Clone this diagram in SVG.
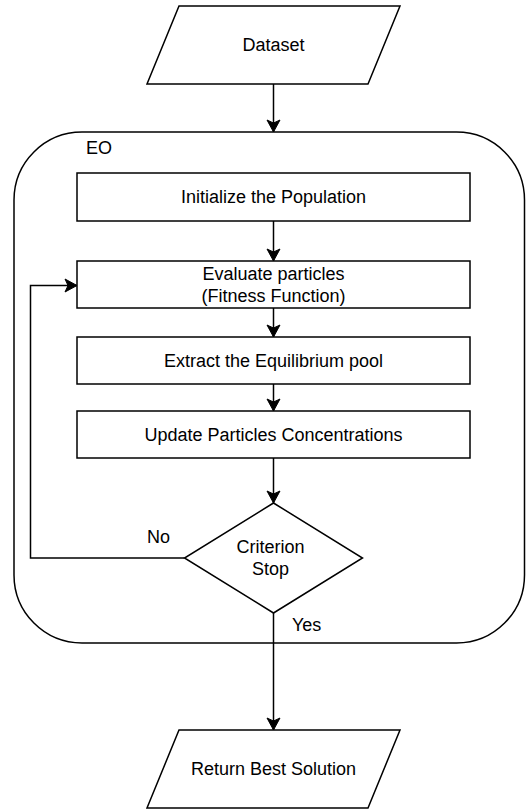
<svg xmlns="http://www.w3.org/2000/svg" width="526" height="809" viewBox="0 0 526 809">
  <style>
    .shape { fill: #ffffff; stroke: #000000; stroke-width: 1.5; }
    .edge { fill: none; stroke: #000000; stroke-width: 1.5; }
    .label { font-family: "Liberation Sans", Arial, sans-serif; font-size: 18px; fill: #000000; }
    .mid { text-anchor: middle; }
  </style>
  <defs>
    <marker id="arrow" markerUnits="userSpaceOnUse" markerWidth="16" markerHeight="16" viewBox="-14 -8 16 16" refX="0" refY="0" orient="auto">
      <path d="M0,0 L-12,-6.5 L-9,0 L-12,6.5 Z" fill="#000000" stroke="#000000" stroke-width="1"/>
    </marker>
  </defs>

  <rect width="526" height="809" fill="#ffffff"/>

  <!-- EO container -->
  <g id="eo-container">
    <rect class="shape" x="14" y="132" width="510.5" height="511" rx="68" ry="68"/>
    <text class="label" x="86" y="154">EO</text>
  </g>

  <g id="dataset">
    <polygon class="shape" points="179,6 400,6 368,84 147,84"/>
    <text class="label mid" x="273.5" y="51.3">Dataset</text>
  </g>

  <g id="init-population">
    <rect class="shape" x="77" y="173" width="393" height="48"/>
    <text class="label mid" x="273.5" y="203.3">Initialize the Population</text>
  </g>

  <g id="evaluate-particles">
    <rect class="shape" x="77" y="261" width="393" height="47"/>
    <text class="label mid" x="273.5" y="279.8">Evaluate particles</text>
    <text class="label mid" x="273.5" y="301.8">(Fitness Function)</text>
  </g>

  <g id="extract-pool">
    <rect class="shape" x="77" y="337" width="393" height="47"/>
    <text class="label mid" x="273.5" y="366.8">Extract the Equilibrium pool</text>
  </g>

  <g id="update-concentrations">
    <rect class="shape" x="77" y="411" width="393" height="47"/>
    <text class="label mid" x="273.5" y="440.8">Update Particles Concentrations</text>
  </g>

  <g id="criterion-stop">
    <polygon class="shape" points="273.5,503 362.5,558 273.5,613 184.5,558"/>
    <text class="label mid" x="270.5" y="553.3">Criterion</text>
    <text class="label mid" x="270.5" y="575.3">Stop</text>
  </g>

  <g id="return-best">
    <polygon class="shape" points="179,730 400,730 368,808 147,808"/>
    <text class="label mid" x="273.5" y="775.3">Return Best Solution</text>
  </g>

  <!-- connectors -->
  <g id="connectors">
    <line class="edge" x1="273.5" y1="84" x2="273.5" y2="132" marker-end="url(#arrow)"/>
    <line class="edge" x1="273.5" y1="221" x2="273.5" y2="261" marker-end="url(#arrow)"/>
    <line class="edge" x1="273.5" y1="308" x2="273.5" y2="337" marker-end="url(#arrow)"/>
    <line class="edge" x1="273.5" y1="384" x2="273.5" y2="411" marker-end="url(#arrow)"/>
    <line class="edge" x1="273.5" y1="458" x2="273.5" y2="503" marker-end="url(#arrow)"/>
    <polyline class="edge" points="184.5,558 30.5,558 30.5,285.5 77,285.5" marker-end="url(#arrow)"/>
    <line class="edge" x1="273.5" y1="613" x2="273.5" y2="730" marker-end="url(#arrow)"/>
    <text class="label" x="147" y="543">No</text>
    <text class="label" x="292" y="631">Yes</text>
  </g>
</svg>
